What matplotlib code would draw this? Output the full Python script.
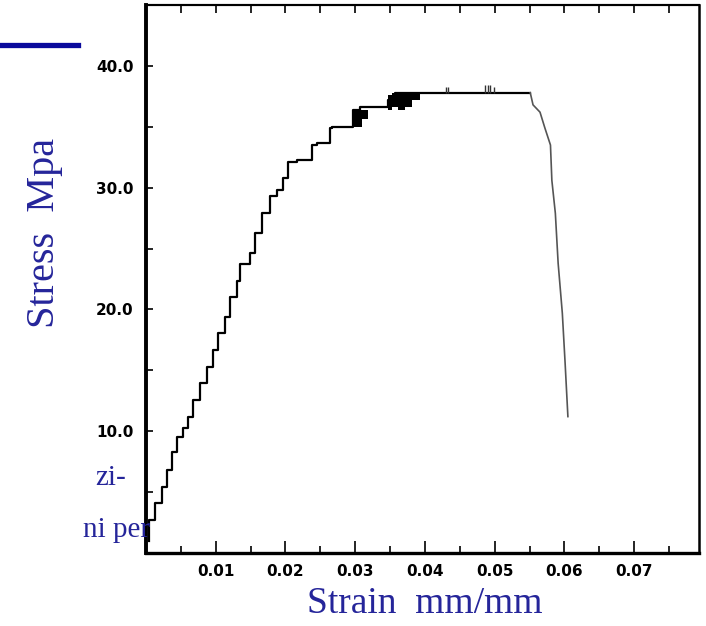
import matplotlib.pyplot as plt
from matplotlib.lines import Line2D
import numpy as np

# loading branch (strain mm/mm, stress MPa)
strain_up = [0.0005, 0.0013, 0.0023, 0.0030, 0.0037, 0.0044, 0.0053, 0.0060,
             0.0067, 0.0077, 0.0088, 0.0096, 0.0103, 0.0113, 0.0121, 0.0131,
             0.0135, 0.0149, 0.0156, 0.0166, 0.0178, 0.0188, 0.0197, 0.0204,
             0.0217, 0.0238, 0.0245, 0.0264, 0.0267, 0.0297, 0.0307, 0.0347,
             0.0357, 0.0393, 0.0551]
stress_up = [1.0, 2.7, 4.1, 5.4, 6.8, 8.3, 9.5, 10.3,
             11.2, 12.6, 14.0, 15.3, 16.7, 18.1, 19.4, 21.0,
             22.3, 23.7, 24.6, 26.3, 27.9, 29.3, 29.8, 30.8,
             32.1, 32.3, 33.5, 33.7, 34.9, 35.0, 36.4, 36.6,
             37.2, 37.8, 37.8]

# softening branch after the peak
strain_down = [0.0551, 0.0555, 0.0565, 0.0572, 0.0580, 0.0582, 0.0587,
               0.0591, 0.0597, 0.0601, 0.0605]
stress_down = [37.8, 36.8, 36.2, 34.9, 33.5, 30.6, 27.9,
               23.8, 19.7, 15.6, 11.2]

# dark noisy patches near the top of the loading branch
blob1_x = [0.0297, 0.0303, 0.0310, 0.0318]
blob1_lo = [35.0, 35.0, 35.0, 35.6]
blob1_hi = [35.6, 36.4, 36.4, 36.4]
blob2_x = [0.0347, 0.0353, 0.0362, 0.0372, 0.0382, 0.0393]
blob2_lo = [36.4, 36.4, 36.6, 36.4, 36.6, 37.2]
blob2_hi = [37.0, 37.6, 37.8, 37.8, 37.8, 37.8]

# small spikes on the plateau
spike_x = [0.0430, 0.0433, 0.0486, 0.0490, 0.0494, 0.0499]
spike_top = [38.3, 38.3, 38.4, 38.4, 38.4, 38.3]

xticks = [0.01, 0.02, 0.03, 0.04, 0.05, 0.06, 0.07]
yticks = [10, 20, 30, 40]

W, H = 706, 626
fig = plt.figure(figsize=(W / 100, H / 100), dpi=100)
ax = fig.add_axes([146 / W, 1 - 553 / H, 553 / W, 548 / H])

ax.plot(strain_up, stress_up, drawstyle='steps-pre', color='black', lw=1.6)
ax.plot(strain_down, stress_down, color='#555555', lw=1.2)
ax.fill_between(blob1_x, blob1_lo, blob1_hi, step='pre', color='black', lw=0)
ax.fill_between(blob2_x, blob2_lo, blob2_hi, step='pre', color='black', lw=0)
ax.vlines(spike_x, 37.8, spike_top, color='#333333', lw=1.0)

ax.set_xlim(0, 0.0793)
ax.set_ylim(0, 45)
ax.set_xticks(xticks)
ax.set_xticklabels([f'{v:.2f}' for v in xticks])
ax.set_xticks(np.arange(0.005, 0.079, 0.01), minor=True)
ax.set_yticks(yticks)
ax.set_yticklabels([f'{v:.1f}' for v in yticks])
ax.set_yticks([5, 15, 25, 35], minor=True)
ax.tick_params(axis='x', which='major', direction='in', length=9, width=1.2,
               pad=8, labelsize=11)
ax.tick_params(axis='x', which='minor', direction='in', length=5, width=1.2)
ax.tick_params(axis='y', which='both', direction='in', length=5, width=1.2,
               pad=9, labelsize=11)
for lab in ax.get_xticklabels() + ax.get_yticklabels():
    lab.set_fontweight('bold')

top = ax.secondary_xaxis('top')
top.set_xticks(np.arange(0.005, 0.079, 0.005))
top.tick_params(direction='in', length=6, width=1.2, labeltop=False)
top.spines['top'].set_linewidth(1.5)

ax.spines['left'].set_linewidth(2.8)
ax.spines['bottom'].set_linewidth(2.4)
ax.spines['right'].set_linewidth(1.8)
ax.spines['top'].set_linewidth(1.5)

blue = '#25259a'
fig.add_artist(Line2D([0, 78 / W], [1 - 45 / H] * 2, color='#0a0a9c', lw=3.8))
fig.text(45 / W, 1 - 233 / H, 'Stress  Mpa', rotation=90, ha='center',
         va='center', fontsize=29, color=blue, family='Liberation Serif')
fig.text(425 / W, 1 - 604 / H, 'Strain  mm/mm', ha='center', va='center',
         fontsize=27, color=blue, family='Liberation Serif')
fig.text(126 / W, 1 - 478 / H, 'zi-', ha='right', va='center',
         fontsize=21, color=blue, family='Liberation Serif')
fig.text(150 / W, 1 - 530 / H, 'ni per', ha='right', va='center',
         fontsize=21, color=blue, family='Liberation Serif')

fig.savefig('out.png', dpi=100)
